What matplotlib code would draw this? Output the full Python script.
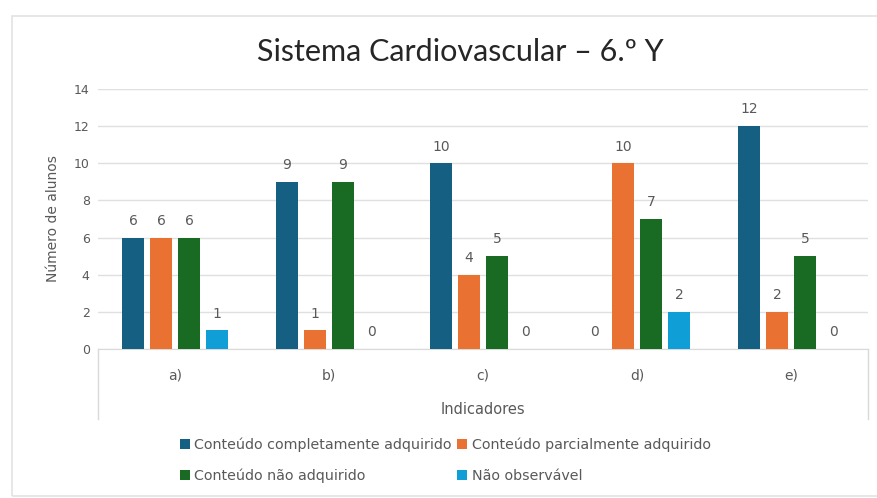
import numpy as np
import matplotlib
matplotlib.use("Agg")
import matplotlib.pyplot as plt
from matplotlib.patches import Rectangle

plt.rcParams['font.family'] = ['DejaVu Sans']

# Data
categories = ['a)', 'b)', 'c)', 'd)', 'e)']
series_names = ['Conteúdo completamente adquirido', 'Conteúdo parcialmente adquirido',
                'Conteúdo não adquirido', 'Não observável']
completo = [6, 9, 10, 0, 12]
parcial = [6, 1, 4, 10, 2]
nao_adquirido = [6, 9, 5, 7, 5]
nao_observavel = [1, 0, 0, 2, 0]
colors = ['#156082', '#E97132', '#196B24', '#0F9ED5']
grey = '#595959'

fig = plt.figure(figsize=(8.78, 4.98), dpi=100)
ax = fig.add_axes([0.1116, 0.2992, 0.877, 0.5221])

# outer chart frame
fig.patches.append(Rectangle((12 / 878, 2 / 498), 1.1, 480 / 498, transform=fig.transFigure,
                             fill=False, edgecolor='#E3E3E3', linewidth=1.2))

x = np.arange(len(categories))
width = 0.143
step = 0.182
all_series = [completo, parcial, nao_adquirido, nao_observavel]
handles = []
for i, (vals, name, c) in enumerate(zip(all_series, series_names, colors)):
    pos = x + (i - 1.5) * step
    bars = ax.bar(pos, vals, width, color=c, label=name, zorder=3)
    ax.bar_label(bars, padding=7, fontsize=10, color=grey)
    handles.append(bars)

ax.set_xlim(-0.5, len(categories) - 0.5)
ax.set_ylim(0, 14)
ax.set_yticks(range(0, 15, 2))
ax.yaxis.grid(True, color='#E0E0E0', linewidth=1, zorder=0)
ax.tick_params(axis='y', length=0, labelsize=9, labelcolor=grey, pad=6)
ax.tick_params(axis='x', length=0, labelsize=10, labelcolor=grey, pad=14)
ax.set_xticks(x)
ax.set_xticklabels(categories)
for s in ['top', 'right', 'left']:
    ax.spines[s].set_visible(False)
ax.spines['bottom'].set_color('#D9D9D9')

# box lines under the category axis
for xa in [0, 1]:
    ax.plot([xa, xa], [0, -0.27], transform=ax.transAxes, color='#D9D9D9',
            linewidth=1, clip_on=False)

ax.set_xlabel('Indicadores', fontsize=10.5, color=grey, labelpad=14)
ax.set_ylabel('Número de alunos', fontsize=10, color=grey, labelpad=10)
ax.set_title('Sistema Cardiovascular – 6.º Y', fontsize=22, color='#262626', pad=20,
             x=0.47, family=['Lato', 'DejaVu Sans'])

# legend filled row by row (matplotlib fills columns first)
order = [0, 2, 1, 3]
fig.legend([handles[i] for i in order], [series_names[i] for i in order],
           loc='upper left', bbox_to_anchor=(0.19, 0.147), ncol=2, frameon=False,
           fontsize=10.3, labelcolor=grey, handlelength=0.7, handleheight=0.7,
           handletextpad=0.3, columnspacing=0.4, labelspacing=1.15)

fig.savefig('out.png', dpi=100)
